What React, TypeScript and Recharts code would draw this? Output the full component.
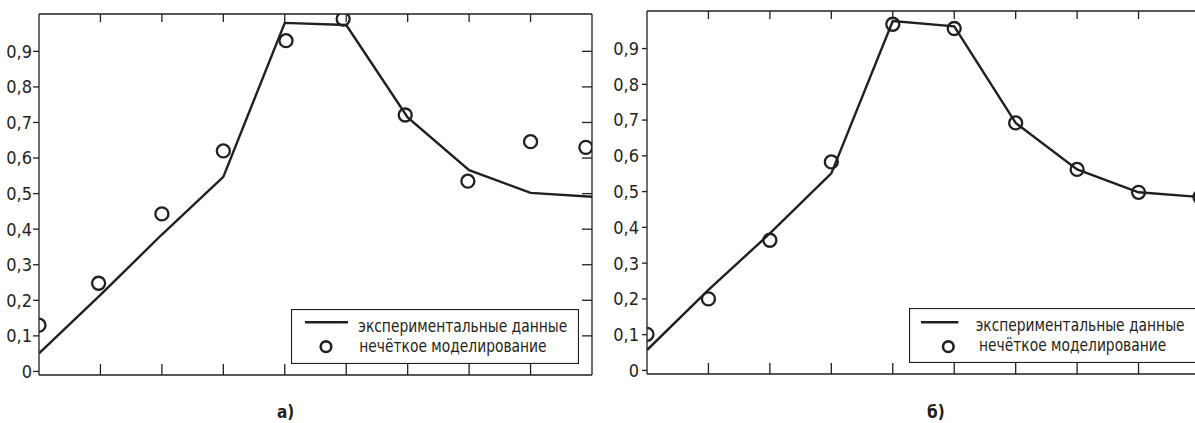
import React from 'react';
import { ComposedChart, Line, Scatter, XAxis, YAxis } from 'recharts';

// x positions of the measurements (no labels on the x axis)
const xSteps = [0, 1, 2, 3, 4, 5, 6, 7, 8, 9];
const xTicks = [1, 2, 3, 4, 5, 6, 7, 8];
const yTicks = [0, 0.1, 0.2, 0.3, 0.4, 0.5, 0.6, 0.7, 0.8, 0.9];
const yRightTicks = [0.1, 0.2, 0.3, 0.4, 0.5, 0.6, 0.7, 0.8, 0.9];

// panel a)
const expA = [0.051, 0.215, 0.385, 0.547, 0.98, 0.974, 0.714, 0.566, 0.502, 0.491];
const fuzzyXA = [0, 0.97, 2, 3, 4.02, 4.95, 5.96, 6.98, 8, 8.9];
const fuzzyA = [0.13, 0.248, 0.443, 0.62, 0.93, 0.991, 0.721, 0.535, 0.646, 0.63];

// panel b)
const expB = [0.057, 0.225, 0.383, 0.551, 0.977, 0.962, 0.692, 0.562, 0.498, 0.485];
const fuzzyXB = [0, 1, 2, 3, 4, 5, 6, 7, 8, 9];
const fuzzyB = [0.101, 0.2, 0.364, 0.583, 0.968, 0.956, 0.692, 0.562, 0.498, 0.485];

const legendLabels = ['экспериментальные данные', 'нечёткое моделирование'];
const panelLabels = ['а)', 'б)'];

const INK = '#231f20';
const FONT = '"DejaVu Sans Condensed", "DejaVu Sans", sans-serif';

const fmt = (v: number) => (v === 0 ? '0' : v.toFixed(1).replace('.', ','));

const ring = (p: any) => (
  <circle cx={p.cx} cy={p.cy} r={6.5} fill="none" stroke={INK} strokeWidth={2.3} />
);

// tick marks only, no label
const noLabel = () => <g />;

interface PanelProps {
  exp: number[];
  fx: number[];
  fy: number[];
  width: number;
  margin: { top: number; right: number; bottom: number; left: number };
  yWidth: number;
  leftTick: number;
  tickMargin: number;
  rightTicks: boolean;
}

const Panel: React.FC<PanelProps> = ({ exp, fx, fy, width, margin, yWidth, leftTick, tickMargin, rightTicks }) => {
  const lineData = xSteps.map((x, i) => ({ x, y: exp[i] }));
  const dotData = fx.map((x, i) => ({ x, y: fy[i] }));
  const axisLine = { stroke: INK, strokeWidth: 1.3 };
  const tickLine = { stroke: INK, strokeWidth: 1.3 };
  return (
    <ComposedChart width={width} height={390} margin={margin}>
      <XAxis
        xAxisId="b"
        dataKey="x"
        type="number"
        domain={[0, 9]}
        allowDataOverflow
        ticks={xTicks}
        tick={noLabel}
        tickSize={-11}
        height={5}
        axisLine={axisLine}
        tickLine={tickLine}
      />
      <XAxis
        xAxisId="t"
        orientation="top"
        dataKey="x"
        type="number"
        domain={[0, 9]}
        allowDataOverflow
        ticks={xTicks}
        tick={noLabel}
        tickSize={-8}
        height={4}
        axisLine={axisLine}
        tickLine={tickLine}
      />
      <YAxis
        yAxisId="l"
        dataKey="y"
        type="number"
        domain={[-0.01, 1.005]}
        allowDataOverflow
        ticks={yTicks}
        tickFormatter={fmt}
        tickSize={leftTick}
        tickMargin={tickMargin}
        width={yWidth}
        axisLine={axisLine}
        tickLine={tickLine}
        tick={{ fill: INK, fontSize: 18, fontFamily: FONT }}
      />
      <YAxis
        yAxisId="r"
        orientation="right"
        dataKey="y"
        type="number"
        domain={[-0.01, 1.005]}
        allowDataOverflow
        ticks={yRightTicks}
        tick={noLabel}
        tickSize={-10}
        width={4}
        axisLine={axisLine}
        tickLine={rightTicks ? tickLine : false}
      />
      <Line
        xAxisId="b"
        yAxisId="l"
        data={lineData}
        dataKey="y"
        type="linear"
        stroke={INK}
        strokeWidth={2.4}
        dot={false}
        isAnimationActive={false}
      />
      <Line
        xAxisId="t"
        yAxisId="r"
        data={lineData}
        dataKey="y"
        stroke="none"
        dot={false}
        isAnimationActive={false}
      />
      <Scatter
        xAxisId="b"
        yAxisId="l"
        data={dotData}
        dataKey="y"
        shape={ring}
        isAnimationActive={false}
      />
    </ComposedChart>
  );
};

interface LegendProps {
  left: number;
  top: number;
  width: number;
  lineX: [number, number];
  lineY: number;
  dot: [number, number];
  textX: [number, number];
}

// condensed look: squeeze the text horizontally
const SQUEEZE = 0.855;

// the right-hand box runs past the page edge, so its svg is clipped
const LegendBox: React.FC<LegendProps> = ({ left, top, width, lineX, lineY, dot, textX }) => (
  <svg width={width} height={55} style={{ position: 'absolute', left, top, overflow: 'hidden' }}>
    <rect x={0.5} y={0.5} width={287} height={54} fill="#fff" stroke={INK} strokeWidth={1.2} />
    <line x1={lineX[0]} x2={lineX[1]} y1={lineY} y2={lineY} stroke={INK} strokeWidth={2.6} />
    <circle cx={dot[0]} cy={dot[1]} r={5.3} fill="none" stroke={INK} strokeWidth={2.6} />
    <text
      transform={`translate(${textX[0]},23) scale(${SQUEEZE},1)`}
      fontFamily={FONT}
      fontSize={18}
      fill={INK}
    >
      {legendLabels[0]}
    </text>
    <text
      transform={`translate(${textX[1]},42.7) scale(${SQUEEZE},1)`}
      fontFamily={FONT}
      fontSize={18}
      fill={INK}
    >
      {legendLabels[1]}
    </text>
  </svg>
);

const App: React.FC = () => (
  <div
    style={{
      position: 'absolute',
      left: 0,
      top: 0,
      width: 1195,
      height: 423,
      overflow: 'hidden',
      background: '#fff',
    }}
  >
    <div style={{ position: 'absolute', left: 0, top: 0 }}>
      <Panel
        exp={expA}
        fx={fuzzyXA}
        fy={fuzzyA}
        width={600}
        margin={{ top: 10, right: 4, bottom: 10, left: 0 }}
        yWidth={39}
        leftTick={6}
        tickMargin={1}
        rightTicks
      />
    </div>
    <div style={{ position: 'absolute', left: 600, top: 0 }}>
      <Panel
        exp={expB}
        fx={fuzzyXB}
        fy={fuzzyB}
        width={620}
        margin={{ top: 7, right: 16, bottom: 11, left: 0 }}
        yWidth={47}
        leftTick={5}
        tickMargin={3}
        rightTicks={false}
      />
    </div>
    <LegendBox left={291} top={309} width={288} lineX={[14, 57]} lineY={13.3} dot={[35, 37.7]} textX={[67.3, 68.3]} />
    <LegendBox left={909} top={308} width={286} lineX={[12, 49.3]} lineY={14.3} dot={[39.3, 38.7]} textX={[66.7, 70]} />
    <svg width={1195} height={423} style={{ position: 'absolute', left: 0, top: 0, pointerEvents: 'none' }}>
      <text x={277} y={418} fontFamily={FONT} fontSize={17} fontWeight={700} fill={INK}>
        {panelLabels[0]}
      </text>
      <text x={927} y={418} fontFamily={FONT} fontSize={17} fontWeight={700} fill={INK}>
        {panelLabels[1]}
      </text>
    </svg>
  </div>
);

export default App;
